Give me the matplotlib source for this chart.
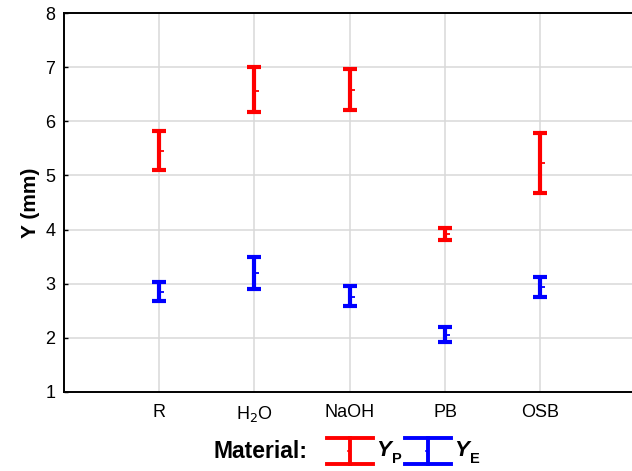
import matplotlib.pyplot as plt
from matplotlib.lines import Line2D

plt.rcParams['font.family'] = ['Liberation Sans', 'DejaVu Sans']

# dados
materiais = ['R', 'H$_2$O', 'NaOH', 'PB', 'OSB']
yp_media = [5.46, 6.57, 6.58, 3.92, 5.23]
yp_baixo = [5.10, 6.18, 6.21, 3.81, 4.68]
yp_alto = [5.83, 7.00, 6.96, 4.03, 5.78]
ye_media = [2.85, 3.20, 2.76, 2.05, 2.93]
ye_baixo = [2.68, 2.91, 2.58, 1.92, 2.75]
ye_alto = [3.03, 3.50, 2.95, 2.19, 3.12]

x = list(range(1, len(materiais) + 1))

fig = plt.figure(figsize=(6.32, 4.71), dpi=100)
ax = fig.add_axes([0.101, 0.168, 0.905, 0.804])

def barras(media, baixo, alto, cor):
    err = [[m - b for m, b in zip(media, baixo)], [a - m for m, a in zip(media, alto)]]
    ax.errorbar(x, media, yerr=err, fmt='none', ecolor=cor, elinewidth=3,
                capsize=5.2, capthick=3, zorder=3)
    ax.plot(x, media, linestyle='none', marker=1, markersize=3.5, color=cor, mew=1.3, zorder=4)

barras(yp_media, yp_baixo, yp_alto, '#ff0000')
barras(ye_media, ye_baixo, ye_alto, '#0000ff')

ax.set_xlim(0, 6)
ax.set_ylim(1, 8)
ax.set_xticks(x)
ax.set_xticklabels(materiais, fontsize=13.5)
ax.set_yticks(range(1, 9))
ax.grid(True, color='#d8d8d8', linewidth=1.1, zorder=0)
ax.set_axisbelow(True)
ax.tick_params(direction='in', length=3, width=1, labelsize=13, colors='black', pad=6)
ax.tick_params(axis='x', length=0, pad=9)
for s in ax.spines.values():
    s.set_linewidth(1.4)
ax.set_ylabel('Y (mm)', fontsize=15, fontweight='bold', labelpad=4)

# legenda feita à mão
W, H = 632, 471
def fx(px):
    return px / W
def fy(py):
    return 1 - py / H

fig.text(fx(214), fy(451), 'Material:', fontsize=16.5, fontweight='bold', va='center', ha='left')
for x0, cor, rotulo in [(327, '#ff0000', 'P'), (405, '#0000ff', 'E')]:
    for yy in (438, 464):
        fig.add_artist(Line2D([fx(x0), fx(x0 + 46)], [fy(yy), fy(yy)], color=cor, lw=2.8))
    xm = x0 + 23
    fig.add_artist(Line2D([fx(xm), fx(xm)], [fy(438), fy(464)], color=cor, lw=2.8))
    fig.add_artist(Line2D([fx(xm - 2), fx(xm)], [fy(451), fy(451)], color=cor, lw=1.2))
    fig.text(fx(x0 + 49), fy(450), 'Y', fontsize=16, fontweight='bold', fontstyle='italic',
             va='center', ha='left')
    fig.text(fx(x0 + 65), fy(459), rotulo, fontsize=10.5, fontweight='bold', va='center', ha='left')

fig.savefig('out.png', dpi=100)
